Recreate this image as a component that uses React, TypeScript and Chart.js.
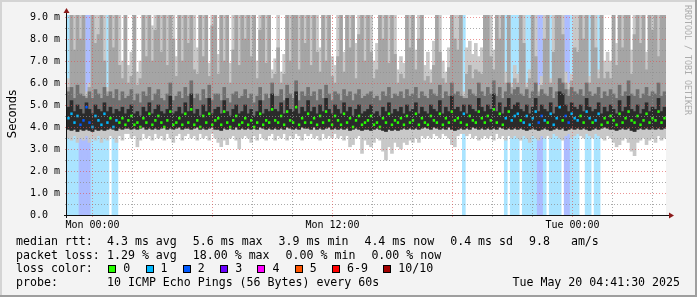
import React, { useEffect, useRef } from "react";
import { Chart, registerables } from "chart.js";

Chart.register(...registerables);

// ---- data (one bin = 9 minutes, 200 bins, Sun 22:43 .. Tue 04:41) ----
const lossCount = [
  1,1,1,1,2,2,2,2,1,1, 1,1,1,1,0,1,1,0,0,0,
  0,0,0,0,0,0,0,0,0,0, 0,0,0,0,0,0,0,0,0,0,
  0,0,0,0,0,0,0,0,0,0, 0,0,0,0,0,0,0,0,0,0,
  0,0,0,0,0,0,0,0,0,0, 0,0,0,0,0,0,0,0,0,0,
  0,0,0,0,0,0,0,0,0,0, 0,0,0,0,0,0,0,0,0,0,
  0,0,0,0,0,0,0,0,0,0, 0,0,0,0,0,0,0,0,0,0,
  0,0,0,0,0,0,0,0,0,0, 0,0,1,0,0,0,0,0,0,0,
  0,0,0,0,0,0,1,0,1,1, 1,0,1,1,1,1,1,2,2,1,
  0,1,1,1,1,0,2,2,1,1, 1,0,0,1,1,0,1,1,0,0,
  0,0,0,0,0,0,0,0,0,0, 0,0,0,0,0,0,0,0,0,0,
];
const pingMin = [
  3.5,3.4,3.6,3.3,3.5,3.4,3.6,3.3,3.5,3.4, 3.6,3.3,3.5,3.4,3.6,3.5,3.3,3.6,3.4,3.7,
  3.7,3.5,3.6,3.1,3.4,3.7,3.5,3.6,3.4,3.7, 3.5,3.6,3.4,3.7,3.5,3.3,3.6,3.7,3.4,3.6,
  3.7,3.5,3.6,3.4,3.7,3.5,3.6,3.4,3.7,3.5, 3.3,3.1,3.4,3.2,3.5,3.6,3.4,3.0,3.5,3.6,
  3.5,3.3,3.6,3.4,3.7,3.5,3.4,3.6,3.7,3.4, 3.6,3.5,3.7,3.4,3.6,3.5,3.7,3.6,3.4,3.7,
  3.6,3.7,3.5,3.6,3.4,3.7,3.5,3.6,3.5,3.7, 3.5,3.6,3.4,3.6,3.1,3.2,3.5,3.6,2.8,3.4,
  3.2,3.1,3.3,3.5,3.4,2.9,2.5,3.1,2.8,3.3, 3.1,3.0,3.3,3.2,3.4,3.3,3.5,3.3,3.6,3.5,
  3.6,3.5,3.7,3.6,3.5,3.7,3.6,3.5,3.2,3.1, 3.6,3.7,3.7,3.6,3.7,3.5,3.6,3.4,3.5,3.6,
  3.5,3.6,3.4,3.7,3.5,3.6,3.4,3.6,3.5,3.6, 3.5,3.4,3.6,3.5,3.3,3.6,3.5,3.4,3.6,3.5,
  3.6,3.5,3.7,3.6,3.5,3.4,3.6,3.7,3.5,3.6, 3.7,3.6,3.5,3.7,3.6,3.5,3.7,3.6,3.5,3.4,
  3.6,3.5,3.3,3.1,3.2,3.4,3.5,3.3,2.9,2.7, 3.3,3.4,3.5,3.2,3.4,3.5,3.3,3.6,3.4,3.5,
];
const smokeBase = [
  3.9,3.85,3.9,3.8,3.9,3.85,3.9,3.85,3.8,3.9, 3.85,3.9,3.85,3.9,3.95,3.9,3.85,3.95,3.9,3.95,
  3.95,3.9,3.95,3.9,3.95,4.0,3.9,3.95,3.9,3.95, 3.9,3.95,4.0,3.9,3.95,3.9,3.95,4.0,3.9,3.95,
  3.95,3.9,3.95,4.0,3.9,3.95,3.9,3.95,4.0,3.9, 3.9,3.85,3.95,3.9,3.95,3.9,4.0,3.9,3.95,3.9,
  3.95,3.9,3.95,3.9,4.0,3.95,3.9,3.95,3.9,3.95, 3.9,3.95,3.9,4.0,3.95,3.9,3.95,3.9,4.0,3.95,
  3.95,3.9,4.0,3.9,3.95,3.9,3.95,4.0,3.9,3.95, 3.9,3.95,3.9,3.95,3.85,3.9,3.95,3.9,3.85,3.9,
  3.9,3.85,3.9,3.95,3.9,3.85,3.8,3.9,3.85,3.9, 3.85,3.9,3.95,3.9,3.95,3.9,3.95,3.9,3.95,4.0,
  3.95,3.9,4.0,3.95,3.9,3.95,3.9,4.0,3.9,3.85, 3.9,3.95,3.9,3.95,3.9,4.0,3.95,3.9,3.95,3.9,
  3.95,3.9,3.95,3.9,4.0,3.95,3.9,3.95,3.9,3.95, 3.9,3.95,3.9,3.85,3.9,3.95,3.9,3.85,3.9,3.95,
  3.9,3.85,3.9,3.95,3.9,3.95,3.85,3.9,3.95,3.9, 3.95,3.9,3.95,3.9,3.85,3.9,3.95,3.9,3.95,4.0,
  3.95,3.9,3.9,3.85,3.9,3.95,3.9,3.95,3.85,3.8, 3.9,3.95,3.9,3.95,3.9,3.95,3.9,3.95,3.9,3.95,
];
const medianRtt = [
  4.4,4.6,4.2,4.5,4.1,4.3,4.9,4.2,4.0,4.5, 4.3,4.1,4.6,4.2,4.4,4.0,4.3,4.2,4.4,4.1,
  4.3,4.5,4.1,4.2,4.0,4.4,4.2,4.6,4.1,4.3, 4.5,4.2,4.0,4.3,4.7,4.1,4.2,4.4,4.1,4.6,
  4.2,4.8,4.1,4.3,4.0,4.5,4.2,4.6,4.1,4.3, 4.4,4.1,4.7,4.2,4.0,4.3,4.5,4.1,4.2,4.4,
  4.1,4.3,4.0,4.2,4.6,4.1,4.3,4.2,4.8,4.3, 4.2,4.5,4.1,4.7,4.3,4.2,4.9,4.1,4.4,4.2,
  4.6,4.2,4.4,4.1,4.5,4.2,4.7,4.3,4.1,4.5, 4.3,4.1,4.6,4.2,4.4,4.0,4.3,4.5,4.1,4.2,
  4.3,4.5,4.1,4.2,4.0,4.4,4.2,4.6,4.1,4.3, 4.2,4.4,4.1,4.5,4.2,4.3,4.6,4.1,4.4,4.2,
  4.1,4.5,4.3,4.2,4.6,4.1,4.4,4.2,4.7,4.3, 4.4,4.2,4.6,4.1,4.5,4.3,4.2,4.7,4.4,4.2,
  4.5,4.3,4.8,4.2,4.6,4.1,4.4,4.7,4.3,4.5, 4.6,4.3,4.2,4.5,4.1,4.4,4.7,4.2,4.5,4.3,
  4.2,4.6,4.1,4.4,4.9,4.3,4.5,4.2,4.6,4.4, 4.3,4.5,4.2,4.7,4.4,4.2,4.3,4.6,4.1,4.4,
  4.2,4.5,4.3,4.1,4.6,4.2,4.4,4.7,4.3,4.2, 4.5,4.1,4.3,4.6,4.2,4.4,4.3,4.7,4.2,4.4,
];
const coreTop = [
  4.9,5.2,4.7,5.0,4.8,4.6,5.1,4.8,4.6,5.0, 4.8,4.7,5.1,4.7,4.9,4.6,4.8,4.7,4.9,4.6,
  4.8,5.0,4.6,4.7,4.5,4.9,4.7,5.1,4.6,4.8, 5.0,4.7,4.6,4.8,5.4,4.6,4.7,4.9,4.6,5.1,
  4.7,5.5,4.6,4.8,4.5,5.0,4.7,5.3,4.6,4.8, 4.9,4.6,5.2,4.7,4.5,4.8,5.0,4.6,4.7,5.0,
  4.6,4.8,4.5,4.7,5.2,4.6,4.8,4.7,5.5,4.8, 4.7,5.1,4.6,5.3,4.8,4.7,5.6,4.6,4.9,4.7,
  5.2,4.7,4.9,4.6,5.0,4.7,5.3,4.8,4.6,5.0, 4.8,4.6,5.1,4.7,4.9,4.5,4.8,5.0,4.6,4.7,
  4.8,5.0,4.6,4.7,4.5,4.9,4.7,5.1,4.6,4.8, 4.7,4.9,4.6,5.0,4.7,4.8,5.1,4.6,4.9,4.7,
  4.6,5.0,4.8,4.7,5.2,4.6,4.9,4.7,5.4,4.8, 4.9,4.7,5.0,4.6,5.0,4.8,4.7,5.3,4.9,4.7,
  5.0,4.8,5.5,4.7,5.1,4.6,4.9,5.3,4.8,5.0, 5.1,4.8,4.7,5.0,4.6,4.9,5.3,4.7,5.0,4.8,
  4.7,5.1,4.6,4.9,5.6,5.5,5.0,4.7,5.1,4.9, 4.8,5.0,4.7,5.3,4.9,4.7,4.8,5.1,4.6,4.9,
  4.7,5.0,4.8,4.6,5.2,4.7,4.9,5.4,4.8,4.7, 5.0,4.6,4.8,5.1,4.7,4.9,4.8,5.3,4.7,4.9,
];
const darkTop = [
  5.6,5.8,5.3,5.9,5.5,5.4,5.3,5.6,5.3,5.7, 5.5,5.3,5.8,5.4,5.6,5.3,5.7,5.2,5.6,5.3,
  5.4,5.7,5.2,5.5,5.1,5.6,5.4,5.8,5.2,5.5, 5.7,5.3,5.2,5.5,6.0,5.2,5.4,5.6,5.3,5.8,
  5.4,6.1,5.3,5.5,5.2,5.7,5.3,5.9,5.2,5.5, 5.5,5.2,5.8,5.3,5.1,5.5,5.6,5.3,5.4,5.7,
  5.3,5.5,5.1,5.4,5.8,5.2,5.5,5.3,6.0,5.4, 5.4,5.7,5.2,5.9,5.5,5.3,6.1,5.2,5.6,5.4,
  5.8,5.4,5.6,5.2,5.7,5.3,5.9,5.5,5.2,5.6, 5.5,5.2,5.7,5.4,5.6,5.2,5.5,5.7,5.3,5.4,
  5.5,5.6,5.3,5.4,5.2,5.6,5.4,5.8,5.3,5.5, 5.4,5.6,5.3,5.7,5.4,5.5,5.8,5.3,5.6,5.4,
  5.3,5.7,5.5,5.4,5.9,5.3,5.6,5.4,6.0,5.5, 5.6,5.4,5.3,5.3,5.7,5.5,5.4,6.0,5.6,5.4,
  5.8,5.5,6.1,5.4,5.8,5.3,5.6,6.0,5.5,5.7, 5.8,5.5,5.4,5.7,5.3,5.6,6.0,5.4,5.7,5.5,
  5.4,5.8,5.3,5.6,6.2,6.0,5.7,5.4,5.8,5.6, 5.5,5.7,5.4,6.0,5.6,5.4,5.5,5.8,5.3,5.6,
  5.4,5.7,5.5,5.3,5.9,5.4,5.6,6.1,5.5,5.4, 5.7,5.3,5.5,5.8,5.4,5.6,5.5,6.0,5.4,5.6,
];
const midTop = [
  5.8,9.1,7.5,9.1,8.0,9.1,5.4,5.8,9.1,7.8, 8.2,9.1,7.0,5.6,9.1,7.6,9.1,6.8,6.2,9.1,
  6.0,6.3,9.1,5.9,6.2,9.1,7.2,9.1,7.0,8.4, 9.1,7.4,9.1,6.8,9.1,8.0,6.3,9.1,7.0,9.1,
  7.8,9.1,6.6,6.4,9.1,7.2,9.1,6.3,8.6,9.1, 6.4,9.1,7.0,9.1,6.0,7.5,9.1,6.8,9.1,8.0,
  9.1,7.2,9.1,6.2,8.4,9.1,6.9,9.1,6.2,6.4, 7.6,6.0,6.4,9.1,7.0,9.1,9.1,6.6,9.1,7.8,
  9.1,6.8,9.1,7.4,6.5,9.1,7.0,9.1,6.3,6.0, 7.2,9.1,6.5,9.1,7.6,9.1,6.2,8.2,9.1,7.0,
  9.1,7.4,6.2,6.6,9.1,8.0,9.1,6.9,9.1,7.3, 6.0,6.4,6.2,9.1,7.6,9.1,6.6,8.0,9.1,6.1,
  6.3,6.0,6.8,9.1,7.4,6.2,6.0,6.7,9.1,8.0, 7.5,9.1,5.4,6.4,6.8,6.2,6.6,6.5,6.4,9.1,
  9.1,7.2,6.6,9.1,8.0,9.1,6.0,9.1,5.8,6.2, 6.0,9.1,7.8,5.8,6.2,9.1,7.2,5.6,5.9,8.0,
  9.1,6.0,7.4,9.1,9.1,8.2,6.0,5.7,6.1,7.6, 7.4,9.1,8.0,9.1,6.0,9.1,7.6,6.2,9.1,6.2,
  6.5,6.2,9.1,6.8,9.1,7.6,9.1,9.1,6.4,8.2, 9.1,7.8,9.1,6.6,9.1,8.4,9.1,7.2,9.1,9.1,
];
const pingMax = [
  6.2,9.1,9.1,9.1,9.1,9.1,5.6,6.0,9.1,9.1, 9.1,9.1,9.1,5.8,9.1,9.1,9.1,9.1,7.0,9.1,
  6.8,7.4,9.1,6.5,7.0,9.1,9.1,9.1,8.6,9.1, 9.1,9.1,9.1,9.1,9.1,9.1,7.2,9.1,9.1,9.1,
  9.1,9.1,9.1,7.6,9.1,9.1,9.1,6.9,9.1,9.1, 7.3,9.1,9.1,9.1,6.9,9.1,9.1,9.1,9.1,9.1,
  9.1,9.1,9.1,7.0,9.1,9.1,9.1,9.1,6.6,7.1, 9.1,6.5,7.3,9.1,9.1,9.1,9.1,9.1,9.1,9.1,
  9.1,9.1,9.1,9.1,7.6,9.1,9.1,9.1,7.2,6.8, 9.1,9.1,7.4,9.1,9.1,9.1,7.8,9.1,9.1,9.1,
  9.1,9.1,7.0,7.8,9.1,9.1,9.1,9.1,9.1,9.1, 6.6,7.2,6.9,9.1,9.1,9.1,7.5,9.1,9.1,6.8,
  7.4,6.6,7.9,9.1,9.1,7.0,6.5,7.6,9.1,9.1, 9.1,9.1,5.6,7.6,7.9,7.3,7.8,7.2,7.6,9.1,
  9.1,9.1,7.5,9.1,9.1,9.1,6.5,9.1,6.0,6.8, 6.4,9.1,9.1,6.0,6.6,9.1,9.1,5.9,6.3,9.1,
  9.1,6.2,9.1,9.1,9.1,9.1,6.5,6.0,6.4,9.1, 9.1,9.1,9.1,9.1,6.3,9.1,9.1,6.6,9.1,7.0,
  7.4,7.0,9.1,7.8,9.1,9.1,9.1,9.1,7.5,9.1, 9.1,9.1,9.1,7.4,9.1,9.1,9.1,9.1,9.1,9.1,
];

// time axis: hours relative to Mon 00:00; each category bin is 9 minutes
const binMinutes = 9;
const timeStartHours = -1.277;
const gridHours = [0, 2, 4, 6, 8, 10, 12, 14, 16, 18, 20, 22, 24, 26, 28];
const labelHours = [0, 12, 24];
const labelTexts = ["Mon 00:00", "Mon 12:00", "Tue 00:00"];
const yMax = 9.09;

// legend
const rttStats = ["4.3 ms avg", "5.6 ms max", "3.9 ms min", "4.4 ms now", "0.4 ms sd", "9.8   am/s"];
const lossStats = ["1.29 % avg", "18.00 % max", "0.00 % min", "0.00 % now"];
const lossLegendLabels = ["0", "1", "2", "3", "4", "5", "6-9", "10/10"];
const lossLegendColors = ["#26ff00", "#00b8ff", "#0059ff", "#6a00ff", "#ff00ff", "#ff5500", "#ff0000", "#a10000"];
const probeText = "10 ICMP Echo Pings (56 Bytes) every 60s";
const stampText = "Tue May 20 04:41:30 2025";

const lossFill = ["rgba(0,0,0,0)", "#aae4ff", "#acbcff"];

const MONO = '"DejaVu Sans Mono"';

function hourPixel(chart: any, h: number) {
  const x = chart.scales.x;
  return x.getPixelForValue(((h - timeStartHours) * 60) / binMinutes - 0.5);
}

const rrdPlugin = {
  id: "rrd",
  beforeDraw(chart: any) {
    const { ctx, chartArea: a, width, height } = chart;
    ctx.save();
    ctx.fillStyle = "#f3f3f3";
    ctx.fillRect(0, 0, width, height);
    ctx.fillStyle = "#d4d4d4";
    ctx.fillRect(0, 0, width, 2);
    ctx.fillRect(0, 0, 2, height);
    ctx.fillStyle = "#9e9e9e";
    ctx.fillRect(0, height - 2, width, 2);
    ctx.fillRect(width - 2, 0, 2, height);
    ctx.fillStyle = "#ffffff";
    ctx.fillRect(a.left, a.top, a.right - a.left, a.bottom - a.top);
    ctx.restore();
  },
  afterDatasetsDraw(chart: any) {
    const { ctx, chartArea: a } = chart;
    const y = chart.scales.y;
    ctx.save();
    ctx.lineWidth = 1;
    ctx.setLineDash([1, 2]);
    for (let v = 0.5; v <= 9.0001; v += 0.5) {
      const py = Math.round(y.getPixelForValue(v)) + 0.5;
      const major = Math.abs(v - Math.round(v)) < 1e-6;
      ctx.strokeStyle = major ? "rgba(222,80,80,0.6)" : "rgba(143,143,143,0.75)";
      ctx.beginPath();
      ctx.moveTo(a.left - 2, py);
      ctx.lineTo(a.right, py);
      ctx.stroke();
    }
    for (const h of gridHours) {
      const px = Math.round(hourPixel(chart, h)) + 0.5;
      const major = h % 6 === 0;
      ctx.strokeStyle = major ? "rgba(222,80,80,0.6)" : "rgba(143,143,143,0.75)";
      ctx.beginPath();
      ctx.moveTo(px, a.top);
      ctx.lineTo(px, a.bottom + 2);
      ctx.stroke();
    }
    ctx.setLineDash([]);
    ctx.strokeStyle = "#101010";
    ctx.beginPath();
    ctx.moveTo(a.left - 3, a.bottom + 0.5);
    ctx.lineTo(a.right + 3, a.bottom + 0.5);
    ctx.moveTo(a.left - 0.5, a.bottom + 3);
    ctx.lineTo(a.left - 0.5, a.top - 4);
    ctx.stroke();
    ctx.fillStyle = "#8b1a1a";
    ctx.beginPath();
    ctx.moveTo(a.left - 0.5, a.top - 7);
    ctx.lineTo(a.left - 3.5, a.top - 2);
    ctx.lineTo(a.left + 2.5, a.top - 2);
    ctx.closePath();
    ctx.fill();
    ctx.beginPath();
    ctx.moveTo(a.right + 8, a.bottom + 0.5);
    ctx.lineTo(a.right + 3, a.bottom - 2.5);
    ctx.lineTo(a.right + 3, a.bottom + 3.5);
    ctx.closePath();
    ctx.fill();

    ctx.fillStyle = "#000";
    ctx.font = "10px " + MONO;
    ctx.textAlign = "center";
    ctx.textBaseline = "alphabetic";
    labelHours.forEach((h, i) => {
      ctx.fillText(labelTexts[i], Math.round(hourPixel(chart, h)) + 0.5, a.bottom + 13);
    });
    ctx.restore();
  },
  afterDraw(chart: any) {
    const { ctx } = chart;
    ctx.save();
    ctx.fillStyle = "#000";
    ctx.font = '11.5px "DejaVu Sans"';
    ctx.textAlign = "center";
    ctx.textBaseline = "alphabetic";
    ctx.translate(15.5, 114);
    ctx.rotate(-Math.PI / 2);
    ctx.fillText("Seconds", 0, 0);
    ctx.restore();

    ctx.save();
    ctx.fillStyle = "#acacac";
    ctx.font = "8.3px " + MONO;
    ctx.textAlign = "left";
    ctx.textBaseline = "alphabetic";
    ctx.translate(685, 5);
    ctx.rotate(Math.PI / 2);
    ctx.fillText("RRDTOOL / TOBI OETIKER", 0, 0);
    ctx.restore();

    ctx.save();
    ctx.fillStyle = "#000";
    ctx.font = "11.6px " + MONO;
    ctx.textAlign = "left";
    ctx.textBaseline = "alphabetic";
    const rows = [245, 258.5, 272, 285.5];
    ctx.fillText("median rtt:", 16, rows[0]);
    let x = 107;
    for (const s of rttStats) {
      ctx.fillText(s, x, rows[0]);
      x += ctx.measureText(s).width + 16;
    }
    ctx.fillText("packet loss:", 16, rows[1]);
    x = 107;
    for (const s of lossStats) {
      ctx.fillText(s, x, rows[1]);
      x += ctx.measureText(s).width + 16;
    }
    ctx.fillText("loss color:", 16, rows[2]);
    x = 108.3;
    lossLegendLabels.forEach((lab, i) => {
      const sx = Math.round(x);
      ctx.fillStyle = lossLegendColors[i];
      ctx.fillRect(sx, 265, 8, 8);
      ctx.strokeStyle = "#000";
      ctx.lineWidth = 1;
      ctx.strokeRect(sx + 0.5, 265.5, 7, 7);
      ctx.fillStyle = "#000";
      ctx.fillText(lab, x + 15, rows[2]);
      x += 15 + ctx.measureText(lab).width + 15.3;
    });
    ctx.fillText("probe:", 16, rows[3]);
    ctx.fillText(probeText, 107, rows[3]);
    ctx.textAlign = "right";
    ctx.fillText(stampText, 680, rows[3]);
    ctx.restore();
  },
};

export default function App() {
  const ref = useRef<HTMLCanvasElement | null>(null);

  useEffect(() => {
    const canvas = ref.current;
    if (!canvas) return;
    const labels = medianRtt.map((_, i) => String(i));
    const lossMark = [lossLegendColors[0], lossLegendColors[1], lossLegendColors[2]];
    const chart = new Chart(canvas, {
      type: "bar",
      data: {
        labels,
        datasets: [
          {
            label: "loss",
            data: lossCount.map((l) => (l > 0 ? [0, yMax] : null)) as any,
            backgroundColor: lossCount.map((l) => lossFill[l]),
            order: 6,
          },
          {
            label: "min-max",
            data: pingMin.map((v, i) => [v, pingMax[i]]) as any,
            backgroundColor: "#c8c8c8",
            order: 5,
          },
          {
            label: "outer",
            data: smokeBase.map((v, i) => [v, midTop[i]]) as any,
            backgroundColor: "#a5a5a5",
            order: 4,
          },
          {
            label: "inner",
            data: smokeBase.map((v, i) => [v, darkTop[i]]) as any,
            backgroundColor: "#707070",
            order: 3,
          },
          {
            label: "core",
            data: smokeBase.map((v, i) => [v, coreTop[i]]) as any,
            backgroundColor: "#2b2b2b",
            order: 2,
          },
          {
            label: "median",
            data: medianRtt.map((v) => [v - 0.06, v + 0.06]) as any,
            backgroundColor: lossCount.map((l) => lossMark[l]),
            barPercentage: 0.8,
            order: 1,
          },
        ],
      },
      options: {
        responsive: false,
        animation: false,
        devicePixelRatio: 1,
        events: [],
        layout: { padding: { top: 15, right: 31, left: 0, bottom: 82 } },
        datasets: {
          bar: {
            grouped: false,
            barPercentage: 1,
            categoryPercentage: 1,
            borderWidth: 0,
          },
        } as any,
        plugins: {
          legend: { display: false },
          tooltip: { enabled: false },
        },
        scales: {
          x: {
            type: "category",
            display: false,
            offset: true,
            grid: { display: false },
          },
          y: {
            type: "linear",
            min: 0,
            max: yMax,
            grid: { display: false, drawTicks: false },
            border: { display: false },
            afterFit: (s: any) => {
              s.width = 67;
            },
            ticks: {
              stepSize: 0.5,
              includeBounds: false,
              autoSkip: false,
              padding: 7,
              color: "#000",
              font: { family: "DejaVu Sans Mono", size: 10 },
              callback: (value: any) => {
                const v = Number(value);
                if (Math.abs(v - Math.round(v)) > 1e-6) return "";
                if (Math.round(v) === 0) return "0.0  ";
                return v.toFixed(1) + " m";
              },
            },
          },
        } as any,
      },
      plugins: [rrdPlugin],
    });
    return () => chart.destroy();
  }, []);

  return (
    <div style={{ position: "fixed", left: 0, top: 0, width: 697, height: 297 }}>
      <canvas ref={ref} width={697} height={297} style={{ display: "block", width: 697, height: 297 }} />
    </div>
  );
}
